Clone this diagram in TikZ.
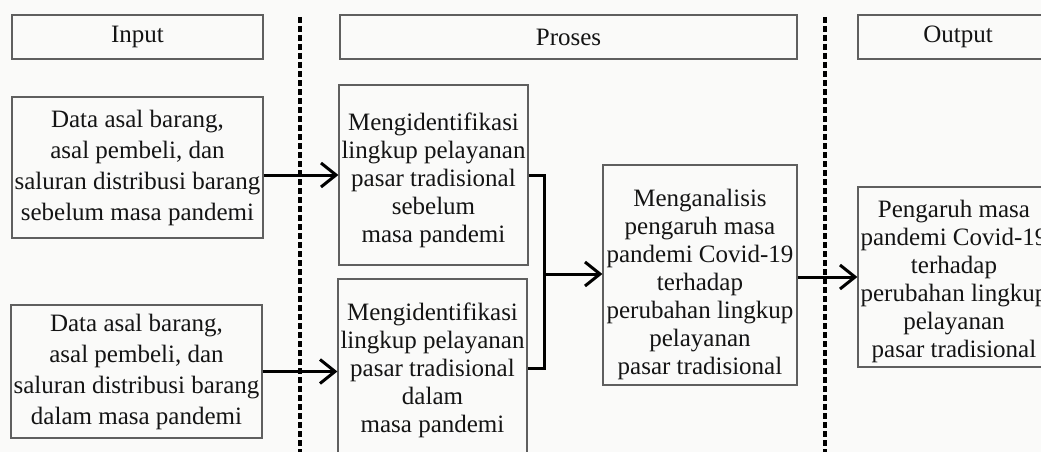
\documentclass[tikz,border=0pt]{standalone}
\usepackage{fontspec}
\setmainfont{Liberation Serif}
\usetikzlibrary{arrows.meta}
\definecolor{bg}{RGB}{250,250,249}
\definecolor{boxline}{RGB}{95,95,95}
\definecolor{txt}{RGB}{20,20,20}
\newcommand{\topgap}[1]{\rule{0pt}{#1}}
\begin{document}
\begin{tikzpicture}[x=1pt,y=-1pt,
 box/.style={draw=boxline, line width=1.2pt, align=center, inner sep=0pt, text=txt, font=\fontsize{25}{28}\selectfont},
 inbox/.style={box, font=\fontsize{25}{31}\selectfont},
 conn/.style={line width=3pt, black},
 arr/.style={conn, -{Straight Barb[length=15pt,width=24pt]}},
 divider/.style={black, line width=4pt, dash pattern=on 6pt off 3pt}]
\fill[bg] (0,0) rectangle (1041,452);
\useasboundingbox (0,0) rectangle (1041,452);
\clip (0,0) rectangle (1041,452);

% headers
\node[box, minimum width=251pt, minimum height=44pt] (hin) at (137.5,37) {Input};
\node[box, minimum width=457pt, minimum height=44pt] (hpr) at (568.5,37) {Proses};
\node[box, minimum width=200pt, minimum height=44pt] (hout) at (958,37) {Output};

% dividers
\coordinate (d1t) at (300,17);
\coordinate (d1b) at (300,452);
\coordinate (d2t) at (825,17);
\coordinate (d2b) at (825,452);
\draw[divider] (d1t) -- (d1b);
\draw[divider] (d2t) -- (d2b);

% input boxes
\node[inbox, minimum width=251pt, minimum height=141pt] (in1) at (137.5,167.5)
 {Data asal barang,\\asal pembeli, dan\\saluran distribusi barang\\sebelum masa pandemi};
\node[inbox, minimum width=251pt, minimum height=133pt] (in2) at (136.5,371.5)
 {Data asal barang,\\asal pembeli, dan\\saluran distribusi barang\\dalam masa pandemi};

% process boxes
\node[box, minimum width=189pt, minimum height=180pt] (pr1) at (433.5,175)
 {\topgap{29pt}Mengidentifikasi\\lingkup pelayanan\\pasar tradisional\\sebelum\\masa pandemi};
\node[box, minimum width=189pt, minimum height=182pt] (pr2) at (432.5,370)
 {Mengidentifikasi\\lingkup pelayanan\\pasar tradisional\\dalam\\masa pandemi};

\node[box, minimum width=194pt, minimum height=220pt] (mid) at (700,275)
 {\topgap{36pt}Menganalisis\\pengaruh masa\\pandemi Covid-19\\terhadap\\perubahan lingkup\\pelayanan\\pasar tradisional};

% output
\node[box, minimum width=192pt, minimum height=180pt] (out) at (954,277)
 {\topgap{27pt}Pengaruh masa\\pandemi Covid-19\\terhadap\\perubahan lingkup\\pelayanan\\pasar tradisional};

% connectors
\draw[arr] (in1.east |- pr1.west) -- (pr1.west);
\draw[arr] (in2.east) -- (in2.east -| pr2.west);
\coordinate (jt) at (544,175);
\coordinate (jb) at (544,368);
\coordinate (jm) at (544,274);
\draw[conn, line join=miter] (pr1.east) -- (jt) -- (jb) -- (pr2.east |- jb);
\draw[arr] (jm) -- (jm -| mid.west);
\draw[arr] (mid.east |- out.west) -- (out.west);
\end{tikzpicture}
\end{document}
